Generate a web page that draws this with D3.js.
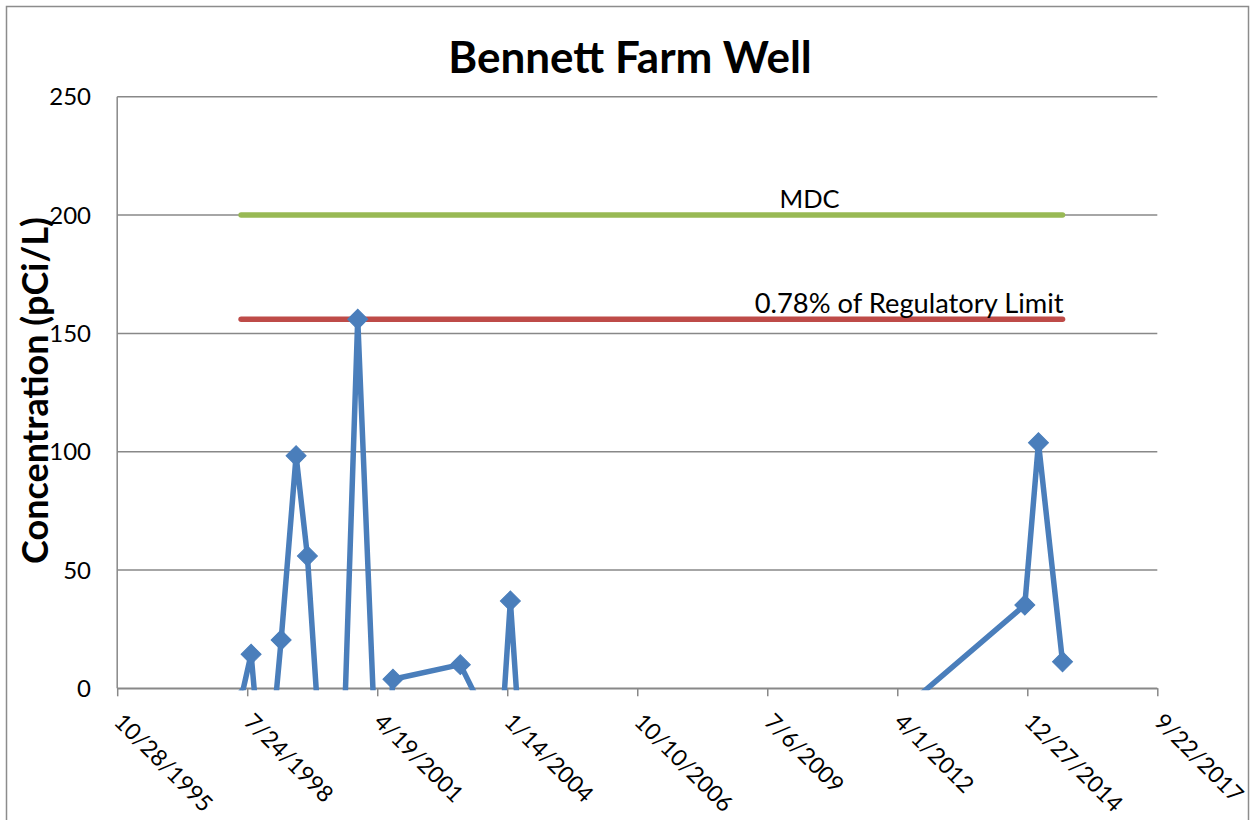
<!DOCTYPE html>
<html>
<head>
<meta charset="utf-8">
<script src="https://cdn.jsdelivr.net/npm/d3@7"></script>
<style>
  html, body { margin: 0; padding: 0; background: #ffffff; }
  svg { display: block; }
  text { font-family: Lato, "Open Sans", sans-serif; fill: #000; }
</style>
</head>
<body>
<svg id="chart" width="1255" height="820"></svg>
<script>
// Sampling dates and measured concentrations (pCi/L)
const sampleDates = [
  "6/7/1998", "8/23/1998", "12/9/1998", "4/11/1999", "8/4/1999", "10/30/1999",
  "2/5/2000", "5/8/2000", "8/8/2000", "11/20/2000", "5/12/2001", "8/18/2001",
  "1/18/2003", "6/21/2003", "11/6/2003", "2/7/2004", "4/23/2004", "11/25/2011",
  "12/8/2014", "3/23/2015", "9/24/2015"
];
const concentrations = [
  -4.3, 14.4, -53, 20.4, 98.3, 55.9,
  -25.7, -35, -16.6, 156, -75, 3.8,
  10, -7.1, -40.8, 36.9, -24.6, -17,
  35.2, 103.8, 11.2
];

// Reference levels
const mdcValue = 200;
const limitValue = 156;
const referenceLabels = ["MDC", "0.78% of Regulatory Limit"];

// Axis ticks
const xTickLabels = ["10/28/1995", "7/24/1998", "4/19/2001", "1/14/2004", "10/10/2006",
                     "7/6/2009", "4/1/2012", "12/27/2014", "9/22/2017"];
const yTickValues = [0, 50, 100, 150, 200, 250];

const titleText = "Bennett Farm Well";
const yAxisTitle = "Concentration (pCi/L)";

const parseDate = d3.utcParse("%m/%d/%Y");
const formatDate = d3.utcFormat("%-m/%-d/%Y");

const data = sampleDates.map((d, i) => ({ date: parseDate(d), value: concentrations[i] }));
const xTicks = xTickLabels.map(parseDate);

const plot = { left: 117.2, right: 1157.3, top: 96.8, bottom: 688.3 };

const svg = d3.select("#chart");

// outer chart frame
svg.append("rect")
  .attr("x", 6.5).attr("y", 6.5)
  .attr("width", 1242).attr("height", 840)
  .attr("fill", "#fff")
  .attr("stroke", "#8c8c8c").attr("stroke-width", 1.5);

const x = d3.scaleUtc()
  .domain([xTicks[0], xTicks[xTicks.length - 1]])
  .range([plot.left, plot.right]);

const y = d3.scaleLinear()
  .domain([0, 250])
  .range([plot.bottom, plot.top]);

// horizontal gridlines
svg.append("g")
  .selectAll("line")
  .data(yTickValues)
  .join("line")
  .attr("x1", plot.left).attr("x2", plot.right)
  .attr("y1", d => y(d)).attr("y2", d => y(d))
  .attr("stroke", "#888").attr("stroke-width", 1.5);

// y axis line and labels
svg.append("line")
  .attr("x1", plot.left).attr("x2", plot.left)
  .attr("y1", plot.top).attr("y2", plot.bottom)
  .attr("stroke", "#888").attr("stroke-width", 1.5);

svg.append("g")
  .selectAll("text")
  .data(yTickValues)
  .join("text")
  .attr("x", 91)
  .attr("y", d => y(d))
  .attr("dy", "0.36em")
  .attr("text-anchor", "end")
  .attr("font-size", 24)
  .text(d => d);

// x axis
const xAxis = d3.axisBottom(x)
  .tickValues(xTicks)
  .tickFormat(formatDate)
  .tickSize(8)
  .tickSizeOuter(0);

const gx = svg.append("g")
  .attr("transform", `translate(0,${plot.bottom})`)
  .call(xAxis);
gx.select(".domain").attr("stroke", "#888").attr("stroke-width", 1.5);
gx.selectAll(".tick line").attr("stroke", "#888").attr("stroke-width", 1.5);
gx.selectAll(".tick text")
  .attr("x", 0).attr("y", 0).attr("dy", "0.36em")
  .attr("transform", "translate(1,29) rotate(45)")
  .attr("text-anchor", "start")
  .attr("font-size", 23)
  .attr("font-family", "Lato, sans-serif")
  .attr("fill", "#000");

// reference lines spanning the sampling period
const [firstDate, lastDate] = d3.extent(data, d => d.date);
svg.append("line")
  .attr("x1", x(firstDate)).attr("x2", x(lastDate))
  .attr("y1", y(mdcValue)).attr("y2", y(mdcValue))
  .attr("stroke", "#98b954").attr("stroke-width", 5.5)
  .attr("stroke-linecap", "round");
svg.append("line")
  .attr("x1", x(firstDate)).attr("x2", x(lastDate))
  .attr("y1", y(limitValue)).attr("y2", y(limitValue))
  .attr("stroke", "#be4b48").attr("stroke-width", 5.5)
  .attr("stroke-linecap", "round");

svg.append("text")
  .attr("x", x(lastDate) - 253)
  .attr("y", y(mdcValue) - 7)
  .attr("text-anchor", "middle")
  .attr("font-size", 25.5)
  .text(referenceLabels[0]);
svg.append("text")
  .attr("x", x(lastDate) + 1)
  .attr("y", y(limitValue) - 6)
  .attr("text-anchor", "end")
  .attr("font-size", 27.3)
  .text(referenceLabels[1]);

// concentration series, clipped to the plotting area
svg.append("clipPath").attr("id", "plot-clip")
  .append("rect")
  .attr("x", plot.left).attr("y", plot.top - 15)
  .attr("width", plot.right - plot.left)
  .attr("height", plot.bottom - plot.top + 17);

const series = svg.append("g").attr("clip-path", "url(#plot-clip)");

const line = d3.line()
  .x(d => x(d.date))
  .y(d => y(d.value));

series.append("path")
  .datum(data)
  .attr("d", line)
  .attr("fill", "none")
  .attr("stroke", "#4a7ebb")
  .attr("stroke-width", 5.5)
  .attr("stroke-linejoin", "round");

const diamond = d3.symbol().type(d3.symbolSquare).size(200);
series.selectAll(".marker")
  .data(data)
  .join("path")
  .attr("class", "marker")
  .attr("d", diamond)
  .attr("transform", d => `translate(${x(d.date)},${y(d.value)}) rotate(45)`)
  .attr("fill", "#4a7ebb")
  .attr("stroke", "#4a7ebb")
  .attr("stroke-width", 1);

// titles
svg.append("text")
  .attr("x", 630).attr("y", 73)
  .attr("text-anchor", "middle")
  .attr("font-size", 44)
  .attr("font-weight", "bold")
  .text(titleText);

svg.append("text")
  .attr("transform", `translate(48,${(plot.top + plot.bottom) / 2 - 2}) rotate(-90)`)
  .attr("text-anchor", "middle")
  .attr("font-size", 36)
  .attr("font-weight", "bold")
  .text(yAxisTitle);
</script>
</body>
</html>
